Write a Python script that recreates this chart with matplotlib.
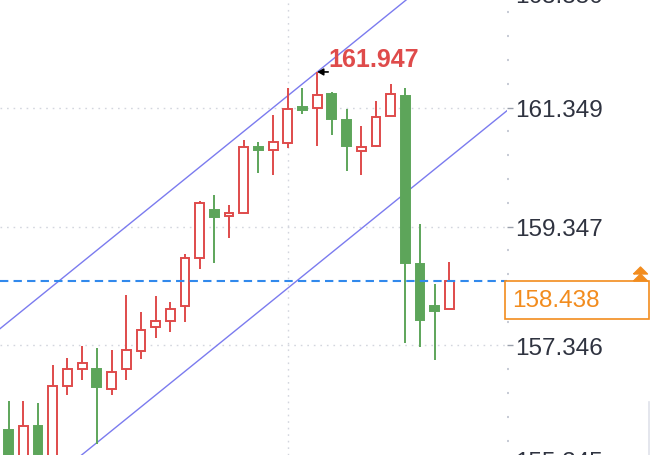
import numpy as np
import matplotlib
matplotlib.use("Agg")
import matplotlib.pyplot as plt
from matplotlib.patches import Rectangle
from matplotlib.lines import Line2D
from matplotlib.transforms import IdentityTransform

plt.rcParams["font.family"] = ["Liberation Sans", "DejaVu Sans"]

# OHLC bars, oldest first
opens = [155.924, 155.352, 155.997, 155.300, 156.659, 156.950, 156.950, 156.614,
         156.950, 157.258, 157.652, 157.753, 158.005, 158.812, 159.630, 159.519,
         159.574, 160.690, 160.639, 160.752, 161.362, 161.341, 161.576, 161.147,
         160.612, 160.706, 161.211, 161.537, 158.716, 158.005, 157.960]
highs = [156.417, 156.420, 156.378, 157.018, 157.130, 157.342, 157.304, 157.270,
         158.195, 157.904, 158.183, 158.082, 158.885, 159.771, 159.882, 159.709,
         160.802, 160.764, 161.228, 161.677, 161.677, 161.947, 161.605, 161.324,
         161.043, 161.463, 161.744, 161.677, 159.389, 158.380, 158.755]
lows = [155.100, 155.250, 155.400, 155.200, 156.513, 156.765, 155.689, 156.513,
        156.765, 157.119, 157.467, 157.568, 157.746, 158.632, 158.733, 159.154,
        159.560, 160.247, 160.214, 160.668, 161.240, 160.706, 160.886, 160.286,
        160.214, 160.680, 161.200, 157.388, 157.315, 157.107, 157.960]
closes = [155.268, 155.997, 155.521, 156.659, 156.950, 157.051, 156.653, 156.905,
          157.270, 157.611, 157.753, 157.960, 158.817, 159.738, 159.512, 159.574,
          160.680, 160.639, 160.764, 161.324, 161.307, 161.564, 161.156, 160.706,
          160.680, 161.184, 161.576, 158.733, 157.780, 157.921, 158.438]

price_ticks = [155.345, 157.346, 159.347, 161.349, 163.350]
tick_labels = ["155.345", "157.346", "159.347", "161.349", "163.350"]
last_price = 158.438
peak_bar = 22
peak_price = 161.947
peak_label = "161.947"
grid_bar = 20

# trend channel endpoints: (bar index, price)
channel_upper = [(1, 157.747), (31, 163.747)]
channel_lower = [(1, 154.511), (31, 160.511)]

UP = "#df4b4b"
DOWN = "#5da55a"
ORANGE = "#f28c1e"
LABEL = "#2f3340"

W, H = 654, 456
fig = plt.figure(figsize=(W / 100, H / 100), dpi=100)
fig.patch.set_facecolor("white")
plot_w = 507
ax = fig.add_axes([0, 0, plot_w / W, 1])
ax.set_facecolor("white")

x = np.arange(1, len(opens) + 1)
o = np.array(opens); c = np.array(closes)
h = np.array(highs); l = np.array(lows)
up = c >= o
cols = np.where(up, UP, DOWN)

# grid
for t in price_ticks:
    ax.axhline(t, color="#d3d6de", lw=1.0, ls=(0, (1.2, 3.5)), zorder=0)
ax.axvline(grid_bar, color="#d3d6de", lw=1.0, ls=(0, (1.2, 3.5)), zorder=0)

# channel
for seg in (channel_upper, channel_lower):
    (x0, y0), (x1, y1) = seg
    slope = (y1 - y0) / (x1 - x0)
    xs = np.array([-5, 40])
    ax.plot(xs, y0 + slope * (xs - x0), color="#7b7bef", lw=1.0, zorder=1)

# candles
ax.vlines(x, l, h, colors=cols, lw=1.4, zorder=2)
body_lo = np.minimum(o, c)
body_h = np.maximum(np.abs(c - o), 0.02)
faces = np.where(up, "white", DOWN)
ax.bar(x, body_h, width=0.6, bottom=body_lo, color=faces, edgecolor=cols,
       linewidth=1.4, zorder=3)

# last price line
ax.axhline(last_price, color="#3189ec", lw=1.5, dashes=(4, 2.5), zorder=4)

# peak marker
ax.annotate("", xy=(peak_bar, peak_price), xytext=(11, 0), textcoords="offset pixels",
            arrowprops=dict(arrowstyle="-|>,head_length=0.35,head_width=0.2",
                            color="black", lw=1.2, shrinkA=0, shrinkB=0), zorder=6)
ax.annotate(peak_label, xy=(peak_bar, peak_price), xytext=(11, 13),
            textcoords="offset pixels", ha="left", va="center", fontsize=18,
            fontweight="bold", color=UP, zorder=6)

# right price axis
for s in ax.spines.values():
    s.set_visible(False)
ax.set_xticks([])
ax.yaxis.tick_right()
ax.set_yticks(price_ticks, tick_labels)
minor = []
for a, b in zip(price_ticks[:-1], price_ticks[1:]):
    minor += [a + k * (b - a) / 5 for k in range(1, 5)]
ax.set_yticks(minor, minor=True)
ax.tick_params(axis="y", which="major", length=4.5, width=1, color="#9aa0ac",
               pad=1.5, labelsize=17.5, labelcolor=LABEL)
ax.tick_params(axis="y", which="minor", length=1.5, width=1.5, color="#c8ccd6")

# view window (set after ticks so it is not widened)
bar_px = 14.69
x_left = 1 - 8.7 / bar_px
ax.set_xlim(x_left, x_left + plot_w / bar_px)
ax.set_ylim(155.504, 163.174)

# labels of ticks lying just outside the window, partly visible at the edges
lo, hi = ax.get_ylim()
for t, lab in zip(price_ticks, tick_labels):
    if t < lo or t > hi:
        nudge = 4.5 if t < lo else -4.5
        ax.annotate(lab, xy=(1, t), xycoords=("axes fraction", "data"),
                    xytext=(8.3, nudge), textcoords="offset pixels", ha="left",
                    va="center_baseline", fontsize=17.5, color=LABEL,
                    annotation_clip=False)

# last price tag
fig.canvas.draw()
y_disp = ax.transData.transform((1, last_price))[1]
ident = IdentityTransform()
fig.add_artist(Rectangle((505, y_disp - 38), 144, 38, transform=ident,
                         facecolor="white", edgecolor=ORANGE, lw=1.2, zorder=10))
fig.text(512, y_disp - 19, f"{last_price:.3f}", transform=ident, ha="left",
         va="center", fontsize=17.5, color=ORANGE, zorder=11)
tri = [(-1, -0.5), (1, -0.5), (0, 0.5), (-1, -0.5)]
fig.add_artist(Line2D([640, 640], [y_disp + 4, y_disp + 11], transform=ident,
                      ls="none", marker=tri, ms=10, color=ORANGE, zorder=11))
fig.add_artist(Line2D([648.5, 648.5], [0, 53], transform=ident,
                      color="#dfe2ea", lw=1.2))

fig.savefig("out.png", dpi=100)
